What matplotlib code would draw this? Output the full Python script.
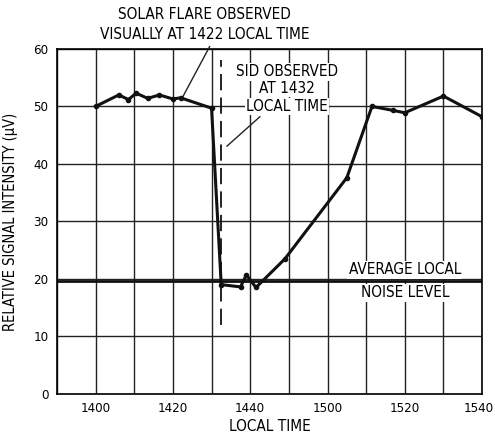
from matplotlib import pyplot as plt
from matplotlib.transforms import ScaledTranslation

plt.rcParams['font.family'] = ['DejaVu Sans']
plt.rcParams['font.stretch'] = 'condensed'

# local time as minutes after 1400
t = [0, 6, 8.5, 10.5, 13.5, 16.5, 20, 22, 30, 32.5, 37.5, 39, 41.5, 49, 65, 71.5, 77, 80, 90, 100]
signal = [50, 52, 51.2, 52.3, 51.4, 52, 51.3, 51.5, 49.7, 19, 18.6, 20.7, 18.5, 23.5, 37.6, 50, 49.3, 48.9, 51.8, 48.2]

tick_pos = [0, 20, 40, 60, 80, 100]
tick_labels = ["1400", "1420", "1440", "1500", "1520", "1540"]

noise_level = 19.7
sid_time = 32.5

fig = plt.figure(figsize=(4.95, 4.41), dpi=100)
ax = fig.add_axes([0.115, 0.107, 0.859, 0.782])
ax.set_xlim(-10, 100)
ax.set_ylim(0, 60)

# grid
for x in range(-10, 101, 10):
    ax.axvline(x, color="#222222", lw=1.0, zorder=1)
for y in range(0, 61, 10):
    ax.axhline(y, color="#222222", lw=1.0, zorder=1)

ax.axhline(noise_level, color="#111111", lw=2.0, zorder=2)
ax.plot([sid_time, sid_time], [12, 58], color="#111111", lw=1.3, dashes=(9, 4), zorder=2)

ax.plot(t, signal, color="#111111", lw=2.2, marker="o", ms=3, zorder=4)

ax.set_xticks(tick_pos, tick_labels)
ax.set_yticks(range(0, 61, 10))
ax.tick_params(length=0, labelsize=9.5, pad=6)
for s in ax.spines.values():
    s.set_linewidth(1.2)
# keep the last label inside the picture
last = ax.get_xticklabels()[-1]
last.set_transform(last.get_transform() + ScaledTranslation(-0.03, 0, fig.dpi_scale_trans))

ax.set_xlabel("LOCAL TIME", fontsize=11, labelpad=3)
ax.set_ylabel("RELATIVE SIGNAL INTENSITY (\u03bcV)", fontsize=10.5, labelpad=11)

box = dict(facecolor="white", edgecolor="none", pad=1)
fig.text(0.414, 0.966, "SOLAR FLARE OBSERVED", ha="center", va="center", fontsize=11)
fig.text(0.414, 0.921, "VISUALLY AT 1422 LOCAL TIME", ha="center", va="center", fontsize=11)
ax.plot([29.5, 22.5], [60.4, 51.6], color="#222222", lw=1.0, clip_on=False, zorder=3)

ax.text(49.5, 56, "SID OBSERVED", ha="center", va="center", fontsize=11, bbox=box, zorder=5)
ax.text(49.5, 53.1, "AT 1432", ha="center", va="center", fontsize=11, bbox=box, zorder=5)
ax.text(49.5, 50, "LOCAL TIME", ha="center", va="center", fontsize=11, bbox=box, zorder=5)
ax.plot([42.5, 34], [48.2, 43.1], color="#222222", lw=1.0, zorder=3)

ax.text(80, 21.6, "AVERAGE LOCAL", ha="center", va="center", fontsize=11, bbox=box, zorder=5)
ax.text(80, 17.6, "NOISE LEVEL", ha="center", va="center", fontsize=11, bbox=box, zorder=5)

plt.savefig("out.png")
